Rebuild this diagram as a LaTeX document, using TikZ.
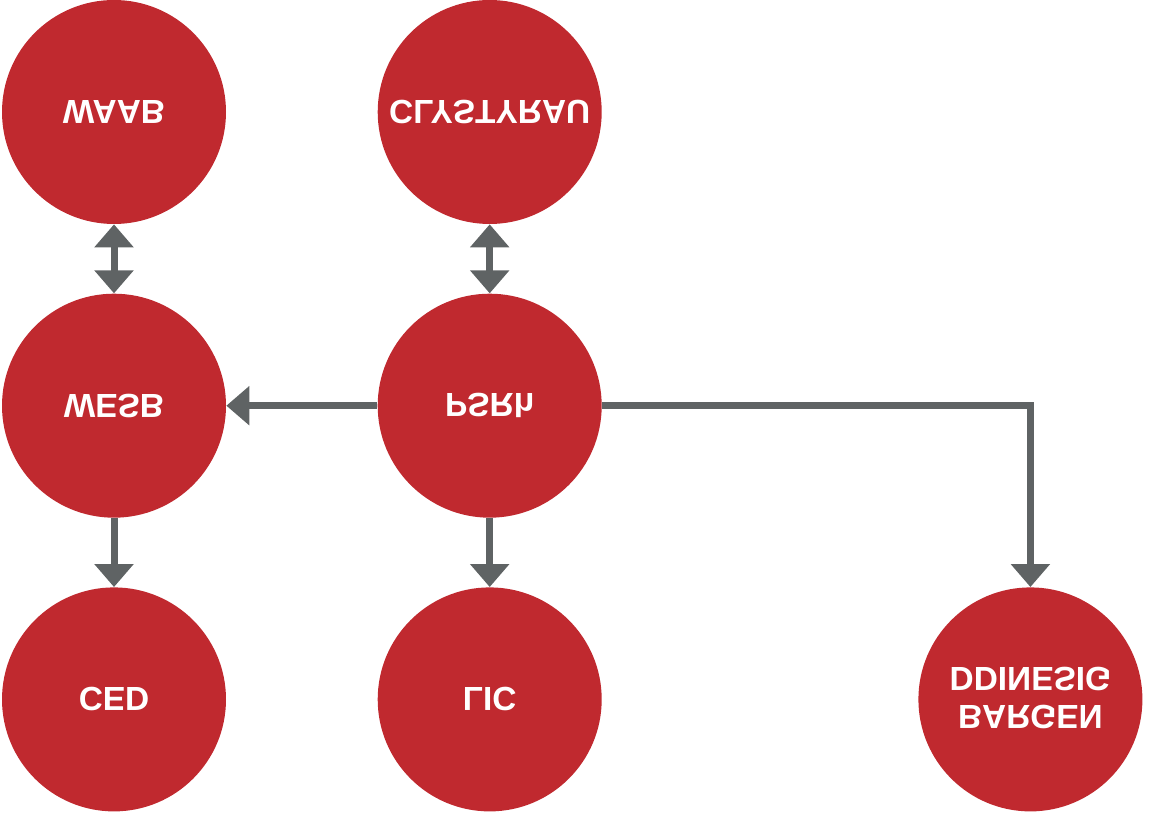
\documentclass[tikz,border=0pt]{standalone}
\usepackage{fontspec}
\setmainfont{Liberation Sans}
\usepackage{graphicx}
\usepackage{xcolor}
\usepackage{tikz}
\usetikzlibrary{arrows.meta, positioning}

\definecolor{bodyred}{RGB}{192,41,47}
\definecolor{linkgray}{RGB}{95,99,100}
\newcommand{\upsidedown}[1]{\rotatebox[origin=c]{180}{\reflectbox{#1}}}

\begin{document}
\begin{tikzpicture}[
    node distance=1.38cm and 3.02cm,
    body/.style={
        circle,
        fill=bodyred,
        text=white,
        minimum size=4.48cm,
        inner sep=0pt,
        align=center,
        font=\fontsize{19}{21.6}\selectfont\bfseries
    },
    arrow/.style={
        -{Triangle[width=0.76cm, length=0.46cm]},
        line width=0.14cm,
        line join=miter,
        color=linkgray
    },
    twoway/.style={
        {Triangle[width=0.76cm, length=0.46cm]}-{Triangle[width=0.76cm, length=0.46cm]},
        line width=0.14cm,
        color=linkgray
    }
]
\useasboundingbox (0,0) rectangle (23,-16.38);

\node[body] (waab) at (2.28,-2.24) {\upsidedown{WAAB}};
\node[body, right=of waab] (clystyrau) {\upsidedown{CLYSTYRAU}};
\node[body, below=of waab] (wesb) {\upsidedown{WESB}};
\node[body, below=of clystyrau] (psrh) {\upsidedown{PSRh}};
\node[body, below=of wesb] (ced) {\upsidedown{CED}};
\node[body, below=of psrh] (lic) {\upsidedown{LIC}};
\node[body, right=6.32cm of lic] (bargen) {\upsidedown{\raisebox{-2.85pt}[\height][\depth]{\begin{tabular}{@{}c@{}}BARGEN\\DDINESIG\end{tabular}}}};

\draw[twoway] (waab) -- (wesb);
\draw[twoway] (clystyrau) -- (psrh);
\draw[arrow] (psrh) -- (wesb);
\draw[arrow] (wesb) -- (ced);
\draw[arrow] (psrh) -- (lic);
\draw[arrow] (psrh) -| (bargen);

\end{tikzpicture}
\end{document}
